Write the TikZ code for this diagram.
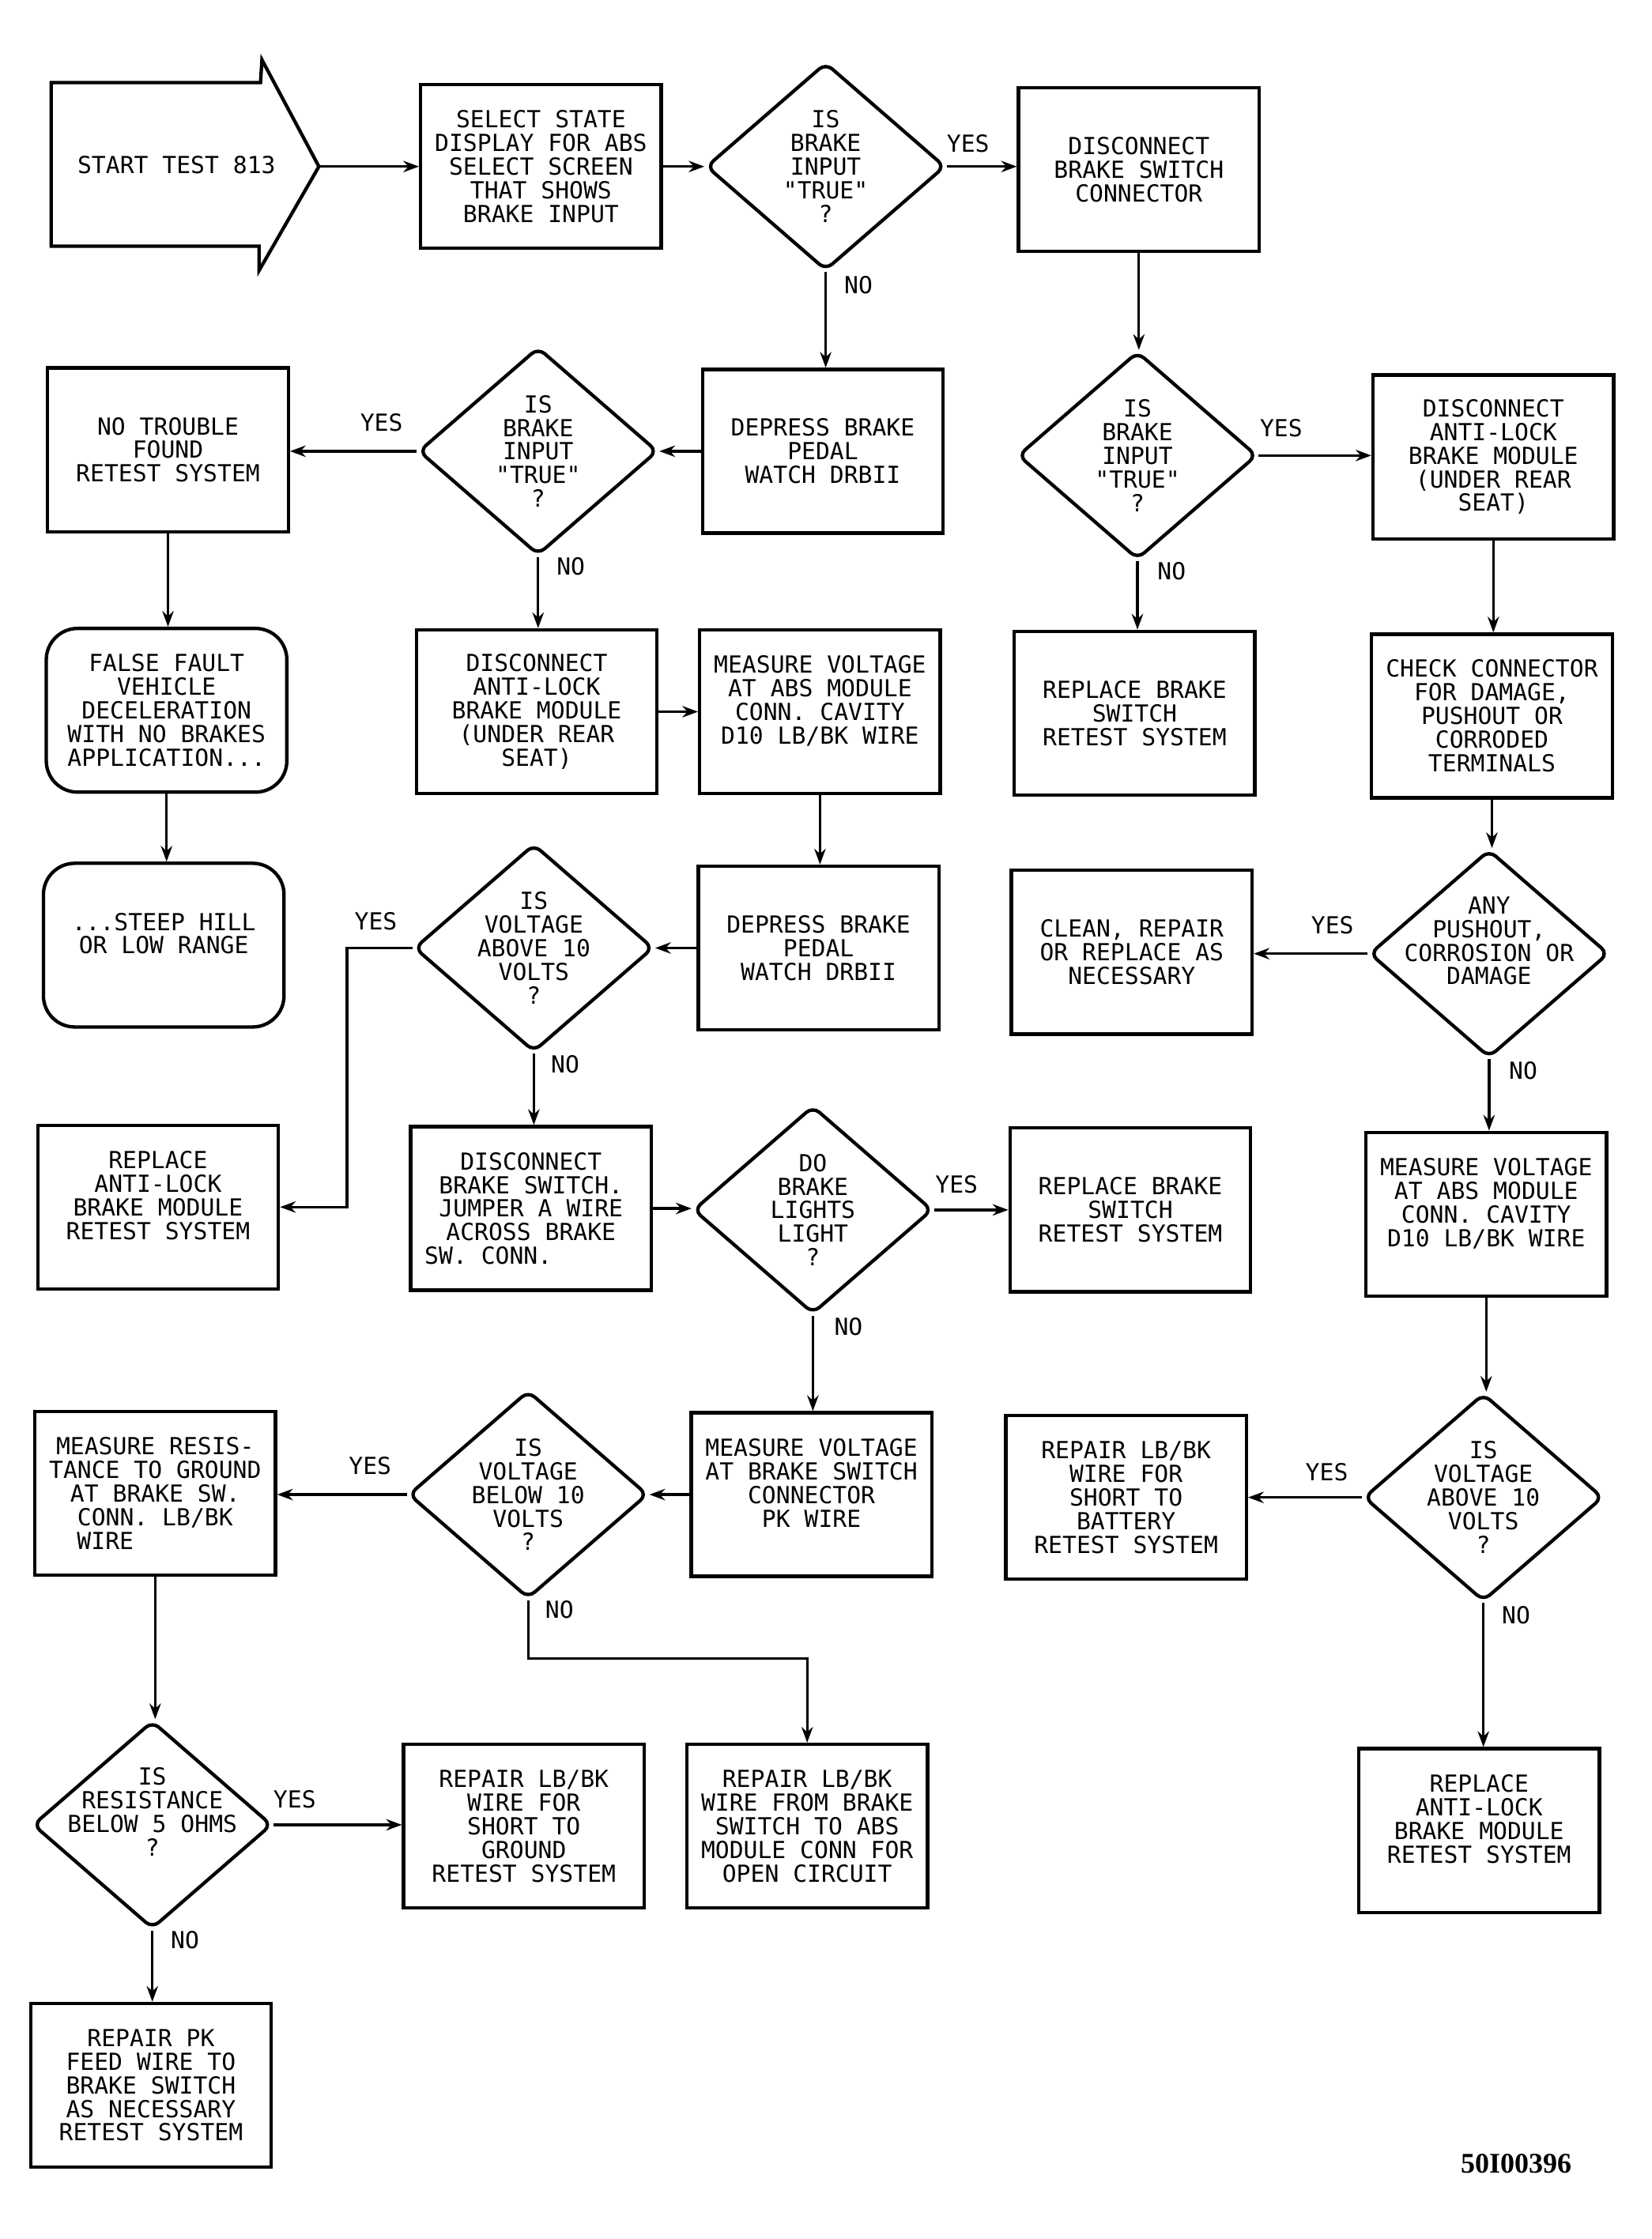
\documentclass[tikz,border=0pt]{standalone}
\usepackage{fontspec}
\setmonofont{DejaVu Sans Mono}
\newfontfamily\figfont{Liberation Serif}
\usetikzlibrary{shapes.geometric,arrows.meta}

\tikzset{
  every node/.style={font=\ttfamily\fontsize{16.5}{16.6}\selectfont, align=center},
  box/.style={draw, line width=2.4pt, minimum width=169pt, minimum height=115pt, inner sep=2pt},
  rbox/.style={box, rounded corners=22pt},
  query/.style={draw, diamond, line width=2.4pt, minimum width=168pt, minimum height=146pt, inner sep=0pt, rounded corners=6pt},
  arr/.style={-{Stealth[length=11pt,width=8pt]}, line width=1.8pt},
}

\begin{document}
\begin{tikzpicture}[x=1pt,y=-1pt]
  \useasboundingbox (0,0) rectangle (1160,1573);

  % Start arrow
  \node (start) at (124,116) {START TEST 813};
  \draw[line width=2.4pt] (183,58) -- (36,58) -- (36,173) -- (182,173) -- (182,190) -- (224,117) coordinate (tip) -- (184,42) -- cycle;

  % Row 1
  \node[box] (sel) at (380,117) {SELECT STATE\\DISPLAY FOR ABS\\SELECT SCREEN\\THAT SHOWS\\BRAKE INPUT};
  \node[query, label={center:{IS\\BRAKE\\INPUT\\"TRUE"\\?}}] (q1) at (580,117) {};
  \node[box] (disc) at (800,119) {DISCONNECT\\BRAKE SWITCH\\CONNECTOR};

  % Row 2
  \node[box] (ntf) at (118,316) {NO TROUBLE\\FOUND\\RETEST SYSTEM};
  \node[query, label={center:{IS\\BRAKE\\INPUT\\"TRUE"\\?}}] (q2) at (378,317) {};
  \node[box] (dep1) at (578,317) {DEPRESS BRAKE\\PEDAL\\WATCH DRBII};
  \node[query, label={center:{IS\\BRAKE\\INPUT\\"TRUE"\\?}}] (q3) at (799,320) {};
  \node[box] (dal) at (1049,321) {DISCONNECT\\ANTI-LOCK\\BRAKE MODULE\\(UNDER REAR\\SEAT)};

  % Row 3
  \node[rbox] (ff) at (117,499) {FALSE FAULT\\VEHICLE\\DECELERATION\\WITH NO BRAKES\\APPLICATION...};
  \node[box] (dal2) at (377,500) {DISCONNECT\\ANTI-LOCK\\BRAKE MODULE\\(UNDER REAR\\SEAT)};
  \node[box] (mv1) at (576,500) {MEASURE VOLTAGE\\AT ABS MODULE\\CONN. CAVITY\\D10 LB/BK WIRE\\\mbox{}};
  \node[box] (rbs1) at (797,501) {REPLACE BRAKE\\SWITCH\\RETEST SYSTEM};
  \node[box] (chk) at (1048,503) {CHECK CONNECTOR\\FOR DAMAGE,\\PUSHOUT OR\\CORRODED\\TERMINALS};

  % Row 4
  \node[rbox] (sh) at (115,664) {...STEEP HILL\\OR LOW RANGE\\\mbox{}};
  \node[query, label={center:{IS\\VOLTAGE\\ABOVE 10\\VOLTS\\?}}] (q4) at (375,666) {};
  \node[box] (dep2) at (575,666) {DEPRESS BRAKE\\PEDAL\\WATCH DRBII};
  \node[box] (cln) at (795,669) {CLEAN, REPAIR\\OR REPLACE AS\\NECESSARY};
  \node[query, label={[yshift=9pt]center:{ANY\\PUSHOUT,\\CORROSION OR\\DAMAGE}}] (q5) at (1046,670) {};

  % Row 5
  \node[box] (ral1) at (111,848) {REPLACE\\ANTI-LOCK\\BRAKE MODULE\\RETEST SYSTEM\\\mbox{}};
  \node[box] (dbs) at (373,849) {DISCONNECT\\BRAKE SWITCH.\\JUMPER A WIRE\\ACROSS BRAKE\\SW. CONN.\hspace*{60pt}};
  \node[query, label={center:{DO\\BRAKE\\LIGHTS\\LIGHT\\?}}] (q6) at (571,850) {};
  \node[box] (rbs2) at (794,850) {REPLACE BRAKE\\SWITCH\\RETEST SYSTEM};
  \node[box] (mv2) at (1044,853) {MEASURE VOLTAGE\\AT ABS MODULE\\CONN. CAVITY\\D10 LB/BK WIRE\\\mbox{}};

  % Row 6
  \node[box] (mr) at (109,1049) {MEASURE RESIS-\\TANCE TO GROUND\\AT BRAKE SW.\hspace*{10pt}\\CONN. LB/BK\\WIRE\hspace*{70pt}};
  \node[query, label={center:{IS\\VOLTAGE\\BELOW 10\\VOLTS\\?}}] (q7) at (371,1050) {};
  \node[box] (mvb) at (570,1050) {MEASURE VOLTAGE\\AT BRAKE SWITCH\\CONNECTOR\\PK WIRE\\\mbox{}};
  \node[box] (rbat) at (791,1052) {REPAIR LB/BK\\WIRE FOR\\SHORT TO\\BATTERY\\RETEST SYSTEM};
  \node[query, label={center:{IS\\VOLTAGE\\ABOVE 10\\VOLTS\\?}}] (q8) at (1042,1052) {};

  % Row 7
  \node[query, label={[yshift=9pt]center:{IS\\RESISTANCE\\BELOW 5 OHMS\\?}}] (q9) at (107,1282) {};
  \node[box] (rgnd) at (368,1283) {REPAIR LB/BK\\WIRE FOR\\SHORT TO\\GROUND\\RETEST SYSTEM};
  \node[box] (rfrom) at (567,1283) {REPAIR LB/BK\\WIRE FROM BRAKE\\SWITCH TO ABS\\MODULE CONN FOR\\OPEN CIRCUIT};
  \node[box] (ral2) at (1039,1286) {REPLACE\\ANTI-LOCK\\BRAKE MODULE\\RETEST SYSTEM\\\mbox{}};

  % Row 8
  \node[box] (rpk) at (106,1465) {REPAIR PK\\FEED WIRE TO\\BRAKE SWITCH\\AS NECESSARY\\RETEST SYSTEM};

  % Figure number
  \node[font=\figfont\bfseries\fontsize{20}{24}\selectfont] (fignum) at (1065,1520) {50I00396};

  % Connectors, across
  \draw[arr] (tip) -- (tip -| sel.west);
  \draw[arr] (sel.east) -- (sel.east -| q1.west);
  \draw[arr] (q1.east) -- (q1.east -| disc.west);
  \draw[arr] (dep1.west) -- (dep1.west -| q2.east);
  \draw[arr] (q2.west) -- (q2.west -| ntf.east);
  \draw[arr] (q3.east) -- (q3.east -| dal.west);
  \draw[arr] (dal2.east) -- (dal2.east -| mv1.west);
  \draw[arr] (dep2.west) -- (dep2.west -| q4.east);
  \draw[arr] (q4.west) -- ++(-46,0) |- (ral1.east);
  \draw[arr] (q5.west) -- (q5.west -| cln.east);
  \draw[arr] (dbs.east) -- (dbs.east -| q6.west);
  \draw[arr] (q6.east) -- (q6.east -| rbs2.west);
  \draw[arr] (mvb.west) -- (mvb.west -| q7.east);
  \draw[arr] (q7.west) -- (q7.west -| mr.east);
  \draw[arr] (q7.south) -- ++(0,41) -| (rfrom.north);
  \draw[arr] (q8.west) -- (q8.west -| rbat.east);
  \draw[arr] (q9.east) -- (q9.east -| rgnd.west);

  % Connectors, down
  \draw[arr] (q1.south) -- (q1.south |- dep1.north);
  \draw[arr] (q2.south) -- (q2.south |- dal2.north);
  \draw[arr] (ntf.south) -- (ntf.south |- ff.north);
  \draw[arr] (ff.south) -- (ff.south |- sh.north);
  \draw[arr] (disc.south) -- (disc.south |- q3.north);
  \draw[arr] (q3.south) -- (q3.south |- rbs1.north);
  \draw[arr] (dal.south) -- (dal.south |- chk.north);
  \draw[arr] (mv1.south) -- (mv1.south |- dep2.north);
  \draw[arr] (q4.south) -- (q4.south |- dbs.north);
  \draw[arr] (chk.south) -- (chk.south |- q5.north);
  \draw[arr] (q5.south) -- (q5.south |- mv2.north);
  \draw[arr] (q6.south) -- (q6.south |- mvb.north);
  \draw[arr] (mv2.south) -- (mv2.south |- q8.north);
  \draw[arr] (q8.south) -- (q8.south |- ral2.north);
  \draw[arr] (mr.south) -- (mr.south |- q9.north);
  \draw[arr] (q9.south) -- (q9.south |- rpk.north);

  % Yes / No labels
  \node (y1) at (680,101) {YES};
  \node (n1) at (603,200) {NO};
  \node (y2) at (268,297) {YES};
  \node (n2) at (401,398) {NO};
  \node (y3) at (900,301) {YES};
  \node (n3) at (823,401) {NO};
  \node (y4) at (264,647) {YES};
  \node (n4) at (397,748) {NO};
  \node (y5) at (936,650) {YES};
  \node (n5) at (1070,752) {NO};
  \node (y6) at (672,832) {YES};
  \node (n6) at (596,932) {NO};
  \node (y7) at (260,1030) {YES};
  \node (n7) at (393,1131) {NO};
  \node (y8) at (932,1034) {YES};
  \node (n8) at (1065,1135) {NO};
  \node (y9) at (207,1264) {YES};
  \node (n9) at (130,1363) {NO};
\end{tikzpicture}
\end{document}
